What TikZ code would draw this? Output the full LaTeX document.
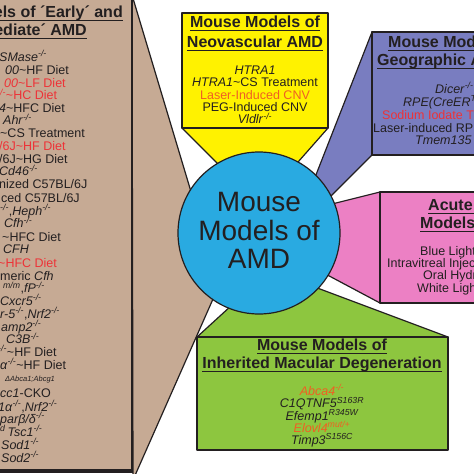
\documentclass[tikz,border=0pt]{standalone}
\usepackage{fontspec}
\setmainfont{Liberation Sans}
\usepackage{tikz}
\usetikzlibrary{positioning}
\definecolor{ink}{RGB}{35,31,32}
\definecolor{tan}{RGB}{198,170,148}
\definecolor{neoyellow}{RGB}{255,242,0}
\definecolor{gapurple}{RGB}{121,125,192}
\definecolor{acutepink}{RGB}{236,128,196}
\definecolor{inhgreen}{RGB}{141,198,63}
\definecolor{amdblue}{RGB}{41,170,225}
\definecolor{hitred}{RGB}{237,50,55}
\definecolor{hitorange}{RGB}{240,95,35}
\newcommand{\ko}{\textsuperscript{\itshape -/-}}
\newcommand{\tld}{\textasciitilde}
\newcommand{\undl}[1]{\setbox0=\hbox{#1}\rlap{\vrule height -2.6pt depth 4.1pt width \wd0}\box0}
\tikzset{>=stealth}

\begin{document}
\begin{tikzpicture}[x=1pt, y=-1pt,
    panel/.style={draw=ink, line width=1.2pt, line join=round},
    head/.style={font=\bfseries\fontsize{16}{17}\selectfont, text=ink, inner sep=0pt, anchor=base},
    txt/.style={font=\fontsize{12.5}{13}\selectfont, text=ink, inner sep=0pt, anchor=base west},
    ctxt/.style={txt, anchor=base}]
    \useasboundingbox (0,0) rectangle (474,474);
    \clip (0,0) rectangle (474,474);

    % Wedges from the panels to the hub
    \filldraw[panel, fill=tan] (132,-5) -- (195,205) -- (217,290) -- (133,480) -- cycle;
    \filldraw[panel, fill=neoyellow] (182,128) -- (224,170) -- (291,170) -- (328,128) -- cycle;
    \filldraw[panel, fill=gapurple] (372,32) -- (312,185) -- (327,200) -- (372,155) -- cycle;
    \filldraw[panel, fill=acutepink] (380,192) -- (320,207) -- (318,270) -- (380,303) -- cycle;
    \filldraw[panel, fill=inhgreen] (197,337) -- (232,305) -- (312,286) -- (448,337) -- cycle;

    % The panels
    \filldraw[panel, fill=tan] (-20,-20) rectangle (132,470);
    \draw[ink, line width=3.5pt] (-20,471.5) -- (133,471.5);
    \filldraw[panel, fill=neoyellow] (182,13) rectangle (328,128);
    \filldraw[panel, fill=gapurple] (372,32) rectangle (560,155);
    \filldraw[panel, fill=acutepink] (380,192) rectangle (560,303);
    \filldraw[panel, fill=inhgreen] (197,337) rectangle (448,450);

    % Hub
    \node[circle, panel, fill=amdblue, minimum size=162pt, inner sep=0pt] (hub) at (259,233) {};
    \node[align=center, text=ink, font=\fontsize{28}{28.7}\selectfont] (hubtext) at ([yshift=2.5pt]hub.center) {Mouse\\Models of\\AMD};

    % Early and intermediate AMD
    \node[head, anchor=base east] (earlyA) at (123,17) {\undl{els of ´Early´ and}};
    \node[head, anchor=base east] (earlyB) at (87,35) {\undl{ediate´ AMD}};
    \node[txt] (m1) at (-1,61) {\textit{SMase}\ko};
    \node[txt] (m2) at (5,74) {\textit{00}\tld HF Diet};
    \node[txt, text=hitred] (m3) at (4,87) {\textit{00}\tld LF Diet};
    \node[txt, text=hitred] (m4) at (-3,99.5) {\ko\tld HC Diet};
    \node[txt] (m5) at (-1,112) {\textit{4}\tld HFC Diet};
    \node[txt] (m6) at (3,124.5) {\textit{Ahr}\ko};
    \node[txt] (m7) at (0,137) {\tld CS Treatment};
    \node[txt, text=hitred] (m8) at (-1,150) {/6J\tld HF Diet};
    \node[txt] (m9) at (-1,163) {/6J\tld HG Diet};
    \node[txt] (m10) at (-1,175.5) {\textit{Cd46}\ko};
    \node[txt] (m11) at (-1,188) {nized C57BL/6J};
    \node[txt] (m12) at (1,202) {ced C57BL/6J};
    \node[txt] (m13) at (0,215) {\ko,\textit{Heph}\ko};
    \node[txt] (m14) at (4,227.5) {\textit{Cfh}\ko};
    \node[txt] (m15) at (2,241) {\tld HFC Diet};
    \node[txt] (m16) at (3,253.5) {\textit{CFH}};
    \node[txt, text=hitred] (m17) at (-2,267) {\tld HFC Diet};
    \node[txt] (m18) at (0,280) {meric \textit{Cfh}};
    \node[txt] (m19) at (3,292.5) {\textsuperscript{\itshape m/m},\textit{fP}\ko};
    \node[txt] (m20) at (0,305) {\textit{Cxcr5}\ko};
    \node[txt] (m21) at (0,318) {\textit{r-5}\ko,\textit{Nrf2}\ko};
    \node[txt] (m22) at (1,331) {\textit{amp2}\ko};
    \node[txt] (m23) at (6,343.5) {\textit{C3B}\ko};
    \node[txt] (m24) at (-2,356) {\ko\tld HF Diet};
    \node[txt] (m25) at (0,369) {\textit{α}\ko\tld HF Diet};
    \node[txt, font=\itshape\fontsize{7.5}{8}\selectfont] (m26) at (5,381) {ΔAbca1;Abcg1};
    \node[txt] (m27) at (0,397.5) {\textit{cc1}-CKO};
    \node[txt] (m28) at (-2,411) {\textit{1α}\ko,\textit{Nrf2}\ko};
    \node[txt] (m29) at (0,423) {\textit{parβ/δ}\ko};
    \node[txt] (m30) at (0,436) {\textsuperscript{\itshape d}\,\textit{Tsc1}\ko};
    \node[txt] (m31) at (1,449) {\textit{Sod1}\ko};
    \node[txt] (m32) at (1,462) {\textit{Sod2}\ko};

    % Neovascular AMD
    \node[head] (neoA) at (255,27) {\undl{Mouse Models of}};
    \node[head] (neoB) at (255,47) {\undl{Neovascular AMD}};
    \node[ctxt] (n1) at (255,74) {\textit{HTRA1}};
    \node[ctxt] (n2) at (255,86.5) {\textit{HTRA1}\tld CS Treatment};
    \node[ctxt, text=hitorange] (n3) at (255,99) {Laser-Induced CNV};
    \node[ctxt] (n4) at (255,111.5) {PEG-Induced CNV};
    \node[ctxt] (n5) at (255,123.5) {\textit{Vldlr}\ko};

    % Geographic atrophy
    \node[head, anchor=base west] (gaA) at (388,47) {\undl{Mouse Models of}};
    \node[head, anchor=base west] (gaB) at (377,65) {\undl{Geographic Atrophy}};
    \node[txt] (a1) at (435,93) {\textit{Dicer}\ko};
    \node[txt] (a2) at (403,106) {\textit{RPE(CreER\textsuperscript{T2})}};
    \node[txt, text=hitred] (a3) at (382,119) {Sodium Iodate Treatment};
    \node[txt] (a4) at (373,132) {Laser-induced RPE};
    \node[txt] (a5) at (415,144) {\textit{Tmem135}};

    % Acute models
    \node[head, anchor=base west] (acA) at (428,210) {\undl{Acute\hspace{40pt}}};
    \node[head, anchor=base west] (acB) at (420,228) {\undl{Models\hspace{40pt}}};
    \node[txt] (c1) at (420,255) {Blue Light};
    \node[txt] (c2) at (387,267) {Intravitreal Injection};
    \node[txt] (c3) at (423,279) {Oral Hydroquinone};
    \node[txt] (c4) at (417,292) {White Light};

    % Inherited macular degeneration
    \node[head] (inhA) at (322,350) {\undl{Mouse Models of}};
    \node[head] (inhB) at (322,368) {\undl{Inherited Macular Degeneration}};
    \node[ctxt, text=hitorange] (g1) at (322,395) {\textit{Abca4}\ko};
    \node[ctxt] (g2) at (322,407.5) {\textit{C1QTNF5}\textsuperscript{\itshape S163R}};
    \node[ctxt] (g3) at (322,420) {\textit{Efemp1}\textsuperscript{\itshape R345W}};
    \node[ctxt, text=hitorange] (g4) at (322,432) {\textit{Elovl4}\textsuperscript{\itshape mut/+}};
    \node[ctxt] (g5) at (322,444) {\textit{Timp3}\textsuperscript{\itshape S156C}};
\end{tikzpicture}
\end{document}
